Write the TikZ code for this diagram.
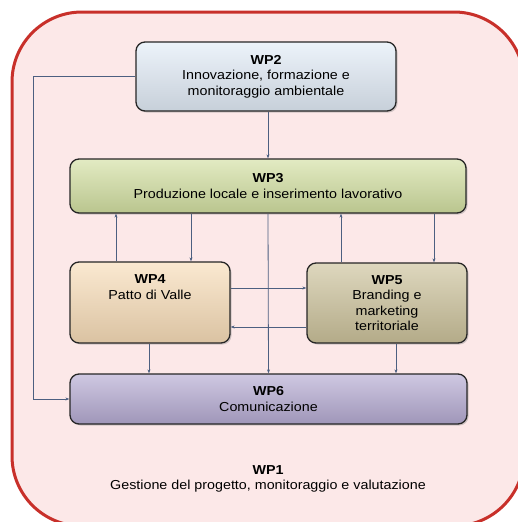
\documentclass[tikz,border=0pt]{standalone}
\usepackage{fontspec}
\setmainfont{Liberation Sans}[FakeStretch=1.1]
\usetikzlibrary{arrows.meta,positioning,shadows}

\definecolor{frameRed}{HTML}{C8302A}
\definecolor{framePink}{HTML}{FCE8E8}
\definecolor{wpBlue}{HTML}{E2ECF7}
\definecolor{wpGreen}{HTML}{D3E0A2}
\definecolor{wpOrange}{HTML}{F8DDB8}
\definecolor{wpTan}{HTML}{CCC29B}
\definecolor{wpLilac}{HTML}{B5ABD2}
\definecolor{linkBlue}{HTML}{4C5F80}

\begin{document}
\begin{tikzpicture}[
    x=1pt,y=-1pt,
    font=\fontsize{13}{15.5}\selectfont,
    box/.style={rectangle,rounded corners=9pt,draw=black!85,line width=1.3pt,
                align=center,inner sep=2pt,
                drop shadow={opacity=0.35,shadow xshift=1.5pt,shadow yshift=-1.5pt}},
    wpfill/.style={top color=#1!65!white,middle color=#1,bottom color=#1!88!black},
    arrow/.style={-{Stealth[length=4pt,width=3pt]},draw=linkBlue,line width=0.8pt}
]

\useasboundingbox (0,0) rectangle (518,522);
\clip (0,0) rectangle (518,522);

%--- WP1 frame ---%
\draw[draw=frameRed,fill=framePink,line width=3pt,rounded corners=70pt]
    (12,12) rectangle (524,526);

%--- Nodes ---%
\node[box,wpfill=wpBlue,minimum width=260pt,minimum height=69pt]
    (wp2) at (266,76.5) {\textbf{WP2}\\Innovazione, formazione e\\monitoraggio ambientale};
\node[box,wpfill=wpGreen,minimum width=396pt,minimum height=54pt]
    (wp3) at (268,186) {\textbf{WP3}\\Produzione locale e inserimento lavorativo};
\node[box,wpfill=wpOrange,minimum width=160pt,minimum height=81pt]
    (wp4) at (150,302.5) {\textbf{WP4}\\Patto di Valle\\\mbox{}\\\mbox{}};
\node[box,wpfill=wpTan,minimum width=160pt,minimum height=80pt]
    (wp5) at (387,303) {\textbf{WP5}\\Branding e\\marketing\\territoriale};
\node[box,wpfill=wpLilac,minimum width=397pt,minimum height=50pt]
    (wp6) at (268.5,399) {\textbf{WP6}\\Comunicazione};

% WP1 caption at the bottom of the frame
\node[align=center] (wp1) at (268,479) {\textbf{WP1}\\Gestione del progetto, monitoraggio e valutazione};

%--- Connectors ---%
\draw[arrow] (wp2.south -| wp3) -- (wp3.north);
\draw[arrow] (wp2.west) -- ++(-102,0) |- (wp6.west);

% WP3 <-> WP4, WP5
\draw[arrow] ([xshift=-34pt]wp4.north) -- ([xshift=-34pt]wp4.north |- wp3.south);
\draw[arrow] ([xshift=41pt]wp4.north |- wp3.south) -- ([xshift=41pt]wp4.north);
\draw[arrow] ([xshift=-46pt]wp5.north) -- ([xshift=-46pt]wp5.north |- wp3.south);
\draw[arrow] ([xshift=47pt]wp5.north |- wp3.south) -- ([xshift=47pt]wp5.north);
\draw[arrow] (wp3.south) -- (wp6.north);

% WP4 <-> WP5
\draw[arrow] ([yshift=14.5pt]wp4.east) -- ([yshift=14.5pt]wp4.east -| wp5.west);
\draw[arrow] ([yshift=-24pt]wp5.west) -- ([yshift=-24pt]wp5.west -| wp4.east);

% down to WP6
\draw[arrow] ([xshift=-1pt]wp4.south) -- ([xshift=-1pt]wp4.south |- wp6.north);
\draw[arrow] ([xshift=9pt]wp5.south) -- ([xshift=9pt]wp5.south |- wp6.north);

\end{tikzpicture}
\end{document}
